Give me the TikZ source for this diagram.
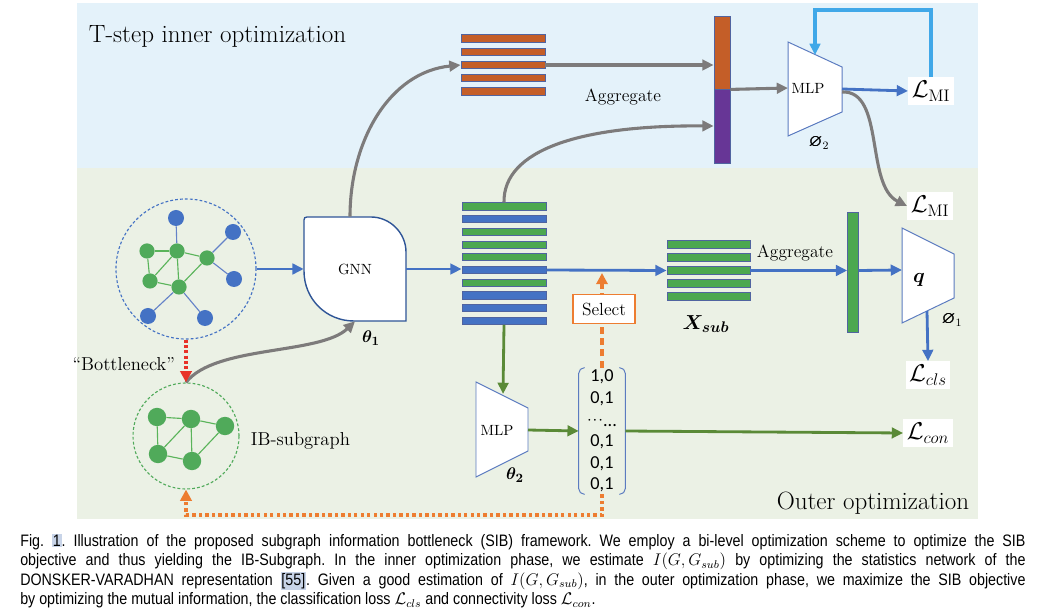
\documentclass[tikz,border=0pt]{standalone}
\usepackage{amsmath,amssymb,bm}
\usepackage{fontspec}
\newfontfamily\capfont[FakeStretch=0.86]{Liberation Sans}
\newfontfamily\matfont{Carlito}
\usetikzlibrary{arrows.meta,positioning,calc}
\definecolor{bgtop}{RGB}{228,242,250}
\definecolor{bgbottom}{RGB}{235,241,229}
\definecolor{barorange}{RGB}{196,94,40}
\definecolor{barpurple}{RGB}{103,54,150}
\definecolor{bargreen}{RGB}{76,168,80}
\definecolor{barblue}{RGB}{68,114,196}
\definecolor{barline}{RGB}{80,100,160}
\definecolor{arrgray}{RGB}{125,123,123}
\definecolor{arrblue}{RGB}{68,114,196}
\definecolor{looplblue}{RGB}{64,168,232}
\definecolor{arrgreen}{RGB}{90,138,55}
\definecolor{selorange}{RGB}{237,125,49}
\definecolor{bneckred}{RGB}{232,50,40}
\definecolor{gnnblue}{RGB}{47,85,151}
\definecolor{trapblue}{RGB}{91,123,192}
\definecolor{nodeblue}{RGB}{68,114,196}
\definecolor{nodegreen}{RGB}{80,170,90}
\definecolor{edgeblue}{RGB}{100,130,200}
\definecolor{edgegreen}{RGB}{90,180,90}
\definecolor{linkbg}{RGB}{200,212,232}
\tikzset{
  bar/.style={draw=barline, line width=0.6pt, fill=#1, inner sep=0pt,
              minimum width=2.1cm, minimum height=0.18cm},
  vbar/.style={draw=barline, line width=0.6pt, fill=#1, inner sep=0pt},
  gnode/.style={circle, fill=nodegreen, inner sep=0pt, minimum size=0.38cm},
  bnode/.style={circle, fill=nodeblue, inner sep=0pt, minimum size=0.4cm},
  snode/.style={circle, fill=nodegreen, inner sep=0pt, minimum size=0.46cm},
  trap/.style={draw=trapblue, line width=0.7pt, fill=white},
  lossbox/.style={fill=white, inner sep=2.5pt, font=\fontsize{17}{20}\selectfont},
  grayarr/.style={draw=arrgray, line width=2.2pt, -{Triangle[length=8pt,width=7.5pt]}},
  bluearr/.style={draw=arrblue, line width=2pt, -{Triangle[length=8pt,width=7.5pt]}},
  greenarr/.style={draw=arrgreen, line width=2pt, -{Triangle[length=8pt,width=7.5pt]}},
  lbl/.style={font=\fontsize{12.5}{15}\selectfont},
}
\begin{document}
\begin{tikzpicture}[x=0.025cm, y=-0.025cm]
  \useasboundingbox (0,0) rectangle (1045,609);
  % two optimization regions
  \fill[bgtop] (77,3) rectangle (978,168);
  \fill[bgbottom] (77,168) rectangle (978,519);
  \node[anchor=west, font=\fontsize{17.8}{21}\selectfont] (innertxt) at (84,36) {T-step inner optimization};
  \node[anchor=east, font=\fontsize{17.8}{21}\selectfont] (outertxt) at (974,503) {Outer optimization};

  % input graph
  \node[circle, draw=arrblue, dash pattern=on 2pt off 1.5pt, line width=0.8pt,
        minimum size=3.5cm] (in) at (186,269) {};
  \foreach \n/\x/\y in {gA/147/251, gB/177/251, gC/207/258, gD/150/281, gE/179/287}
    \node[gnode] (\n) at (\x,\y) {};
  \foreach \n/\x/\y in {bA/176/218, bB/233/232, bC/234/279, bD/148/316, bE/205/318}
    \node[bnode] (\n) at (\x,\y) {};
  \foreach \a/\b in {gA/gB, gA/gD, gB/gC, gB/gD, gB/gE, gD/gE, gE/gC}
    \draw[edgegreen, line width=0.8pt] (\a) -- (\b);
  \foreach \a/\b in {bA/gB, gC/bB, gC/bC, gE/bD, gE/bE}
    \draw[edgeblue, line width=0.8pt] (\a) -- (\b);

  % IB-subgraph
  \node[circle, draw=nodegreen, dash pattern=on 2pt off 1.5pt, line width=0.8pt,
        minimum size=2.65cm] (ib) at (186,436) {};
  \foreach \n/\x/\y in {sA/157/417, sB/191/419, sC/225/426, sD/158/454, sE/192/461}
    \node[snode] (\n) at (\x,\y) {};
  \foreach \a/\b in {sA/sB, sA/sD, sB/sC, sB/sD, sB/sE, sD/sE, sE/sC}
    \draw[edgegreen, line width=0.8pt] (\a) -- (\b);
  \node[anchor=west, font=\fontsize{13.3}{16}\selectfont] (ibtxt) at (246,441) {IB-subgraph};
  \node[anchor=east, font=\fontsize{13.3}{16}\selectfont] (bnecktxt) at (180,364) {``Bottleneck''};

  % GNN
  \draw[draw=gnnblue, line width=1pt, fill=white] (307,217) -- (371,217)
    .. controls (390,217) and (406,233) .. (406,252) -- (406,321) -- (354,321)
    .. controls (326,321) and (304,299) .. (304,271) -- (304,220)
    .. controls (304,218) and (305,217) .. (307,217) -- cycle;
  \node[font=\fontsize{10.5}{12}\selectfont, minimum width=2.55cm, minimum height=2.6cm] (gnn) at (355,269) {GNN};
  \node (th1) at (371,338) {\fontsize{13}{15}\selectfont$\bm{\theta_1}$};

  % node embeddings
  \foreach \c [count=\i] in {bargreen,barblue,bargreen,bargreen,bargreen,barblue,bargreen,barblue,barblue,barblue}
    \node[bar=\c] (sb\i) at (504,{206.5+12.7*(\i-1)}) {};
  \foreach \i in {1,...,5}
    \node[bar=barorange] (ob\i) at (503,{38.5+13.25*(\i-1)}) {};
  \foreach \i in {1,...,5}
    \node[bar=bargreen, minimum width=2.075cm] (xs\i) at (708.5,{244.5+13*(\i-1)}) {};
  \node (xsub) at (706,324) {\fontsize{15}{17}\selectfont$\bm{X_{sub}}$};

  % aggregated vectors
  \node[vbar=barorange, minimum width=0.4cm, minimum height=1.825cm] (vo) at (722,52.5) {};
  \node[vbar=barpurple, minimum width=0.4cm, minimum height=1.85cm] (vp) at (722,126) {};
  \node[vbar=bargreen, minimum width=0.27cm, minimum height=3cm] (vg) at (853,272) {};
  \node[lbl] (agg1) at (623,97) {Aggregate};
  \node[lbl] (agg2) at (795,253) {Aggregate};

  % MLP phi_2
  \draw[trap] (788,42) -- (842,67) -- (842,112) -- (788,136) -- cycle;
  \node[font=\fontsize{10.5}{12}\selectfont] (mlpa) at (808,88) {MLP};
  \node (phi2) at (819,143) {\fontsize{12}{14}\selectfont$\bm{\varnothing}_2$};
  \coordinate (mlpain) at (788,88);
  \coordinate (mlpaout) at (842,89);
  \coordinate (mlpaout2) at (842,92);
  \coordinate (mlpatop) at (815,55);

  % classifier q
  \draw[trap] (902,228) -- (954,254) -- (954,298) -- (902,323) -- cycle;
  \node (qn) at (919,280) {\fontsize{15}{17}\selectfont$\bm{q}$};
  \node (phi1) at (952,320) {\fontsize{12}{14}\selectfont$\bm{\varnothing}_1$};
  \coordinate (qin) at (902,270);
  \coordinate (qout) at (927,311);

  % MLP theta_2
  \draw[trap] (476,382) -- (528,408) -- (528,451) -- (476,477) -- cycle;
  \node[font=\fontsize{10.5}{12}\selectfont] (mlpb) at (497,430) {MLP};
  \node (th2) at (515,475) {\fontsize{13}{15}\selectfont$\bm{\theta_2}$};
  \coordinate (mlpbtop) at (503,394);
  \coordinate (mlpbout) at (528,430);

  % assignment matrix
  \node[inner sep=0pt, minimum width=1.15cm, minimum height=3.15cm, align=center,
        font=\matfont\fontsize{13}{15.4}\selectfont] (mat) at (602,431)
        {1,0\\0,1\\$\cdot\!\cdot\!\cdot$\raisebox{-0.2ex}{...}\\0,1\\0,1\\0,1};
  \draw[trapblue, line width=0.7pt, rounded corners=4pt]
    ([xshift=0.15cm]mat.north west) -- (mat.north west) -- (mat.south west) -- ([xshift=0.15cm]mat.south west);
  \draw[trapblue, line width=0.7pt, rounded corners=4pt]
    ([xshift=-0.15cm]mat.north east) -- (mat.north east) -- (mat.south east) -- ([xshift=-0.15cm]mat.south east);

  % losses
  \node[lossbox] (lmi1) at (931,91) {$\mathcal{L}_{\mathrm{MI}}$};
  \node[lossbox] (lmi2) at (930,206) {$\mathcal{L}_{\mathrm{MI}}$};
  \node[lossbox] (lcls) at (928,375) {$\mathcal{L}_{cls}$};
  \node[lossbox] (lcon) at (928,433) {$\mathcal{L}_{con}$};

  % connectors
  \draw[bluearr] (in.east) -- (gnn.west);
  \draw[bluearr] (gnn.east) -- (gnn.east -| sb6.west);
  \draw[bluearr] (sb6.east) -- (xs3.west);
  \draw[bluearr] (xs3.east) -- (xs3.east -| vg.west);
  \draw[bluearr] (xs3.east -| vg.east) -- (qin);
  \draw[bluearr] (qout) -- (lcls.north);
  \draw[bluearr] (mlpaout) -- (lmi1.west);
  \draw[looplblue, line width=2.5pt, -{Triangle[length=8pt,width=7.5pt]}]
    (lmi1.north) -- (lmi1.north |- 0,10) -| (mlpatop);
  \draw[grayarr] (gnn.north -| 350,0) .. controls (350,140) and (390,72) .. (ob3.west);
  \draw[grayarr] (ob3.east) -- (ob3.east -| vo.west);
  \draw[grayarr] (sb1.north) .. controls (503,150) and (580,125) .. (vp.west);
  \draw[grayarr] (vo.south east) -- (mlpain);
  \draw[grayarr] (mlpaout2) .. controls (885,90) and (865,185) .. (lmi2.west);
  \draw[grayarr] (ib.north) .. controls (215,345) and (320,355) .. (gnn.south);
  \draw[bneckred, line width=2.6pt, dash pattern=on 2.2pt off 1.6pt,
        -{Triangle[length=8pt,width=8pt]}] (in.south) -- (ib.north);
  \draw[greenarr] (sb10.south) -- (mlpbtop);
  \draw[greenarr] (mlpbout) -- (mat.west);
  \draw[greenarr] (mat.east) -- (lcon.west);
  \draw[selorange, line width=2.6pt, dash pattern=on 5pt off 3pt,
        -{Triangle[length=8pt,width=8pt]}] (mat.north) -- (mat.north |- 0,273);
  \draw[selorange, line width=2.5pt, dash pattern=on 2.4pt off 2.2pt,
        -{Triangle[length=8pt,width=8pt]}] (mat.south) -- (mat.south |- 0,515) -| (ib.south);
  \node[draw=selorange, fill=white, line width=0.8pt, lbl, minimum width=1.55cm,
        minimum height=0.74cm, inner sep=1pt] (selbox) at (604,309) {Select};

  % caption
  \node[anchor=north west, inner sep=0pt, text width=25.125cm, align=justify,
        font=\capfont\fontsize{11.8}{13.8}\selectfont\frenchspacing] (cap) at (20,534)
    {Fig.~{\setlength{\fboxsep}{0.6pt}\colorbox{linkbg}{1}}. Illustration of the proposed subgraph information bottleneck (SIB) framework. We employ a bi-level optimization scheme to optimize the SIB\linebreak
    objective and thus yielding the IB-Subgraph. In the inner optimization phase, we estimate $I(G,G_{sub})$ by optimizing the statistics network of the\linebreak
    DONSKER-VARADHAN representation {\setlength{\fboxsep}{0.6pt}\colorbox{linkbg}{[55]}}. Given a good estimation of $I(G,G_{sub})$, in the outer optimization phase, we maximize the SIB objective\linebreak
    by optimizing the mutual information, the classification loss $\mathcal{L}_{cls}$ and connectivity loss $\mathcal{L}_{con}$.};
\end{tikzpicture}
\end{document}
